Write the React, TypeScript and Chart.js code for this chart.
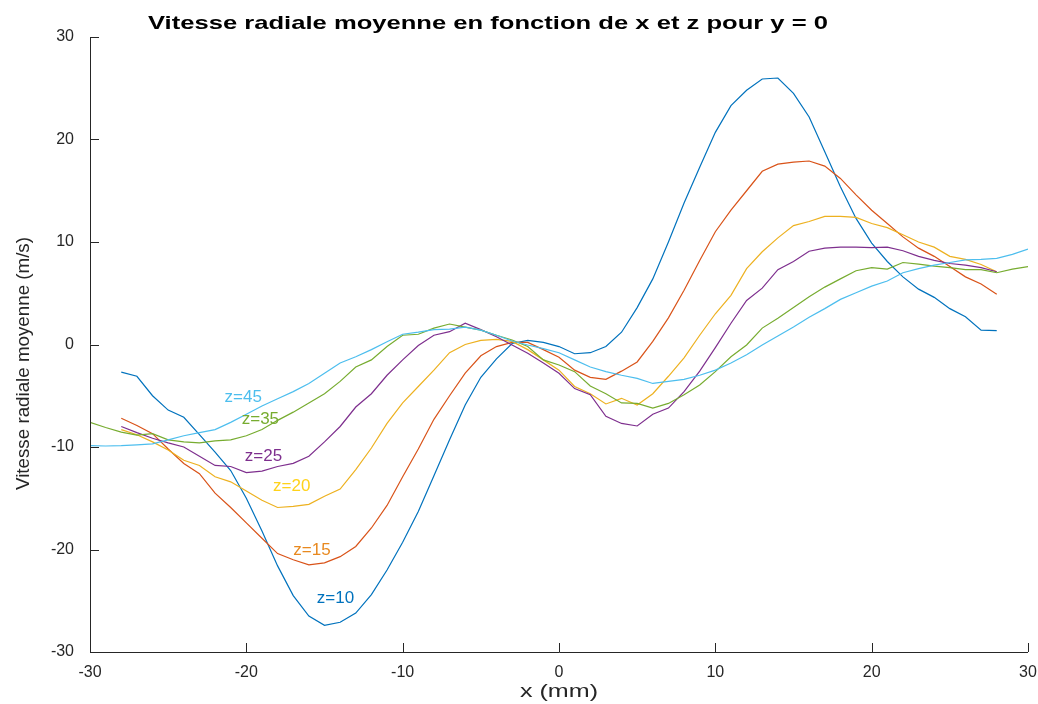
import React, { useEffect, useRef } from "react";
import { Chart, registerables } from "chart.js";

Chart.register(...registerables);

const X_SHORT = [
  -28, -27, -26, -25, -24, -23, -22, -21, -20, -19, -18, -17, -16, -15, -14, -13, -12, -11, -10,
  -9, -8, -7, -6, -5, -4, -3, -2, -1, 0, 1, 2, 3, 4, 5, 6, 7, 8, 9, 10, 11, 12, 13, 14, 15, 16,
  17, 18, 19, 20, 21, 22, 23, 24, 25, 26, 27, 28,
];
const X_LONG = [
  -30, -29, -28, -27, -26, -25, -24, -23, -22, -21, -20, -19, -18, -17, -16, -15, -14, -13, -12,
  -11, -10, -9, -8, -7, -6, -5, -4, -3, -2, -1, 0, 1, 2, 3, 4, 5, 6, 7, 8, 9, 10, 11, 12, 13, 14,
  15, 16, 17, 18, 19, 20, 21, 22, 23, 24, 25, 26, 27, 28, 29, 30,
];

const Z10 = [
  -2.7, -3.1, -5.0, -6.4, -7.1, -8.8, -10.5, -12.3, -15.0, -18.2, -21.6, -24.5, -26.5, -27.4,
  -27.1, -26.2, -24.4, -22.0, -19.3, -16.3, -12.8, -9.3, -5.9, -3.2, -1.4, 0.1, 0.4, 0.2, -0.2,
  -0.9, -0.8, -0.2, 1.2, 3.6, 6.4, 10.0, 13.8, 17.3, 20.7, 23.3, 24.8, 25.9, 26.0, 24.5, 22.2,
  18.8, 15.4, 12.3, 9.9, 8.1, 6.6, 5.4, 4.6, 3.5, 2.7, 1.4, 1.35,
];
const Z15 = [
  -7.2, -7.9, -8.7, -10.2, -11.6, -12.6, -14.5, -15.9, -17.4, -18.9, -20.4, -21.0, -21.5, -21.3,
  -20.7, -19.7, -17.9, -15.7, -12.9, -10.2, -7.3, -5.0, -2.8, -1.1, -0.2, 0.2, 0.2, -0.5, -1.25,
  -2.5, -3.2, -3.4, -2.6, -1.7, 0.3, 2.6, 5.3, 8.2, 11.0, 13.1, 15.0, 16.9, 17.6, 17.8, 17.9,
  17.4, 16.2, 14.6, 13.1, 11.8, 10.5, 9.4, 8.6, 7.6, 6.6, 5.9, 4.9,
];
const Z20 = [
  -8.3, -8.8, -9.5, -10.3, -11.3, -11.8, -12.9, -13.4, -14.3, -15.2, -15.9, -15.8, -15.6, -14.8,
  -14.1, -12.2, -10.1, -7.7, -5.7, -4.1, -2.5, -0.8, 0.0, 0.4, 0.5, 0.3, -0.5, -1.5, -2.5, -4.1,
  -4.8, -5.8, -5.25, -5.9, -4.8, -3.1, -1.3, 0.9, 3.0, 4.8, 7.4, 9.05, 10.4, 11.6, 12.0, 12.5,
  12.5, 12.4, 11.8, 11.4, 10.7, 10.0, 9.5, 8.6, 8.3, 7.8, 7.1,
];
const Z25 = [
  -8.0, -8.6, -9.15, -9.6, -10.0, -10.9, -11.8, -11.9, -12.5, -12.35, -11.9, -11.6, -10.9, -9.5,
  -8.0, -6.1, -4.8, -3.0, -1.5, -0.1, 0.9, 1.25, 2.07, 1.45, 0.76, -0.05, -0.86, -1.8, -2.8, -4.3,
  -4.9, -7.0, -7.7, -7.95, -6.8, -6.2, -4.6, -2.6, -0.3, 2.07, 4.3, 5.5, 7.3, 8.1, 9.1, 9.4, 9.5,
  9.5, 9.45, 9.5, 9.15, 8.6, 8.2, 7.9, 7.75, 7.5, 7.1,
];
const Z35 = [
  -7.6, -8.1, -8.55, -8.85, -8.7, -9.3, -9.5, -9.6, -9.4, -9.3, -8.9, -8.3, -7.4, -6.6, -5.7,
  -4.8, -3.6, -2.2, -1.5, -0.2, 0.9, 1.0, 1.6, 2.0, 1.7, 1.4, 0.9, 0.44, -0.2, -1.5, -2.0, -2.65,
  -4.05, -4.8, -5.7, -5.75, -6.2, -5.75, -4.9, -3.95, -2.65, -1.2, -0.05, 1.6, 2.55, 3.6, 4.65,
  5.6, 6.4, 7.2, 7.5, 7.35, 8.0, 7.85, 7.65, 7.5, 7.3, 7.3, 7.0, 7.35, 7.6,
];
const Z45 = [
  -9.87, -9.9, -9.87, -9.8, -9.7, -9.3, -8.9, -8.6, -8.3, -7.6, -6.8, -6.0, -5.3, -4.6, -3.8,
  -2.8, -1.8, -1.2, -0.5, 0.27, 1.0, 1.2, 1.45, 1.5, 1.7, 1.4, 0.9, 0.34, -0.05, -0.4, -0.8, -1.5,
  -2.2, -2.65, -3.0, -3.3, -3.8, -3.6, -3.4, -3.0, -2.5, -1.8, -1.0, -0.05, 0.83, 1.7, 2.65, 3.5,
  4.4, 5.05, 5.7, 6.2, 7.0, 7.4, 7.75, 8.0, 8.25, 8.3, 8.4, 8.8, 9.3,
];

const SERIES_NAMES = ["z=10", "z=15", "z=20", "z=25", "z=35", "z=45"];
const LINE_COLORS = ["#0072BD", "#D95319", "#EDB120", "#7E2F8E", "#77AC30", "#4DBEEE"];
const LABEL_COLORS = ["#0072BD", "#E8891F", "#FFD21A", "#7E2F8E", "#77AC30", "#4DBEEE"];
const LABEL_X = [-14.3, -15.8, -17.1, -18.9, -19.1, -20.2];
const LABEL_Y = [-24.8, -20.1, -13.8, -10.88, -7.27, -5.12];

const X_TICKS = [-30, -20, -10, 0, 10, 20, 30];
const Y_TICKS = [-30, -20, -10, 0, 10, 20, 30];

const TITLE = "Vitesse radiale moyenne en fonction de x et z pour y = 0";
const X_TITLE = "x (mm)";
const Y_TITLE = "Vitesse radiale moyenne (m/s)";

const FONT = "'Liberation Sans', Arial, Helvetica, sans-serif";
const AXIS_COLOR = "#262626";

function fitText(ctx: CanvasRenderingContext2D, text: string, x: number, y: number, width: number) {
  const w = ctx.measureText(text).width;
  const s = width / w;
  ctx.save();
  ctx.translate(x, y);
  ctx.scale(s, 1);
  ctx.fillText(text, 0, 0);
  ctx.restore();
}

const decorPlugin = {
  id: "decor",
  afterDatasetsDraw(chart: any) {
    const ctx: CanvasRenderingContext2D = chart.ctx;
    const xs = chart.scales.x;
    const ys = chart.scales.y;
    const ca = chart.chartArea;
    ctx.save();
    ctx.strokeStyle = AXIS_COLOR;
    ctx.lineWidth = 1;
    ctx.beginPath();
    ctx.moveTo(ca.left + 0.5, ca.top);
    ctx.lineTo(ca.left + 0.5, ca.bottom + 0.5);
    ctx.lineTo(ca.right, ca.bottom + 0.5);
    ctx.stroke();
    const TL = 9;
    ctx.beginPath();
    X_TICKS.forEach((v) => {
      const px = Math.round(xs.getPixelForValue(v)) + 0.5;
      ctx.moveTo(px, ca.bottom);
      ctx.lineTo(px, ca.bottom - TL);
    });
    Y_TICKS.forEach((v) => {
      const py = Math.round(ys.getPixelForValue(v)) + 0.5;
      ctx.moveTo(ca.left, py);
      ctx.lineTo(ca.left + TL, py);
    });
    ctx.stroke();

    ctx.font = `17px ${FONT}`;
    ctx.textAlign = "center";
    ctx.textBaseline = "middle";
    SERIES_NAMES.forEach((name, i) => {
      ctx.fillStyle = LABEL_COLORS[i];
      ctx.fillText(name, xs.getPixelForValue(LABEL_X[i]), ys.getPixelForValue(LABEL_Y[i]));
    });

    ctx.fillStyle = "#000000";
    ctx.font = `bold 19px ${FONT}`;
    ctx.textAlign = "left";
    ctx.textBaseline = "alphabetic";
    fitText(ctx, TITLE, 148, 29, 680);

    ctx.fillStyle = AXIS_COLOR;
    ctx.font = `19px ${FONT}`;
    ctx.textAlign = "left";
    fitText(ctx, X_TITLE, 520, 697, 78);

    ctx.save();
    ctx.translate(29, 490);
    ctx.rotate(-Math.PI / 2);
    ctx.font = `18px ${FONT}`;
    fitText(ctx, Y_TITLE, 0, 0, 253);
    ctx.restore();

    ctx.restore();
  },
};

export default function App() {
  const ref = useRef<HTMLCanvasElement | null>(null);
  useEffect(() => {
    const canvas = ref.current;
    if (!canvas) return;
    const seriesData = [Z10, Z15, Z20, Z25, Z35, Z45];
    const datasets = seriesData.map((vals, i) => {
      const xv = vals.length === X_LONG.length ? X_LONG : X_SHORT;
      return {
        label: SERIES_NAMES[i],
        data: vals.map((y, j) => ({ x: xv[j], y })),
        borderColor: LINE_COLORS[i],
        backgroundColor: LINE_COLORS[i],
        borderWidth: 1.2,
        pointRadius: 0,
        tension: 0,
        fill: false,
        order: 6 - i,
      };
    });
    const chart = new Chart(canvas, {
      type: "line",
      data: { datasets },
      options: {
        animation: false,
        responsive: false,
        maintainAspectRatio: false,
        layout: { padding: { left: 0, right: 10, top: 37, bottom: 0 } },
        plugins: { legend: { display: false }, tooltip: { enabled: false }, title: { display: false } },
        scales: {
          x: {
            type: "linear",
            min: -30,
            max: 30,
            border: { display: false },
            grid: { display: false, drawTicks: false },
            afterBuildTicks: (s: any) => {
              s.ticks = X_TICKS.map((v) => ({ value: v }));
            },
            afterFit: (s: any) => {
              s.height = 52;
              s.paddingLeft = 0;
              s.paddingRight = 0;
            },
            ticks: {
              color: AXIS_COLOR,
              font: { family: FONT, size: 16 },
              padding: 11,
              maxRotation: 0,
              callback: (v: any) => String(v),
            },
          },
          y: {
            type: "linear",
            min: -30,
            max: 30,
            border: { display: false },
            grid: { display: false, drawTicks: false },
            afterBuildTicks: (s: any) => {
              s.ticks = Y_TICKS.map((v) => ({ value: v }));
            },
            afterFit: (s: any) => {
              s.width = 90;
              s.paddingTop = 0;
              s.paddingBottom = 0;
            },
            ticks: {
              color: AXIS_COLOR,
              font: { family: FONT, size: 16 },
              padding: 16,
              callback: (v: any) => String(v),
            },
          },
        },
      },
      plugins: [decorPlugin],
    });
    return () => chart.destroy();
  }, []);
  return (
    <div style={{ position: "absolute", left: 0, top: 0, width: 1038, height: 704, background: "#fff" }}>
      <canvas ref={ref} width={1038} height={704} style={{ width: 1038, height: 704, display: "block" }} />
    </div>
  );
}
